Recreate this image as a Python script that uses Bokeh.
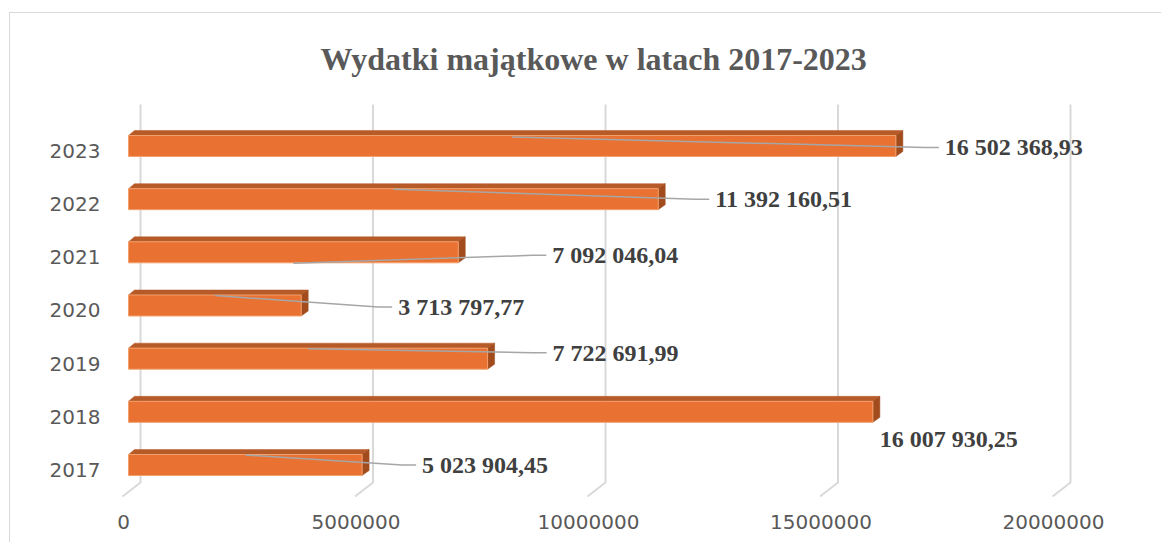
from bokeh.plotting import figure
from bokeh.models import Range1d, LinearAxis, FixedTicker, BasicTickFormatter
from bokeh.core.properties import value
from bokeh.embed import file_html
from bokeh.resources import INLINE

# ---------------- data ----------------
years = ["2017", "2018", "2019", "2020", "2021", "2022", "2023"]
amounts = [5023904.45, 16007930.25, 7722691.99, 3713797.77, 7092046.04, 11392160.51, 16502368.93]
amount_labels = ["5 023 904,45", "16 007 930,25", "7 722 691,99", "3 713 797,77",
                 "7 092 046,04", "11 392 160,51", "16 502 368,93"]
x_ticks = [0, 5000000, 10000000, 15000000, 20000000]
title_text = "Wydatki majątkowe w latach 2017-2023"

# ---------------- layout (page pixels) ----------------
OX, OY = 10, 13            # canvas origin on page
W, H = 1152, 530
FRAME_L, FRAME_R, FRAME_T, FRAME_B = 108, 1142, 100, 500
ZERO_PX = 128.0            # page x of value 0 on bar front faces
SX = 46.5e-6               # px per unit
FIRST_Y = 464.5            # page y of front-face centre of first category
STEP = 53.17               # px between categories
BAR_H_PX = 21
DEPTH_X, DEPTH_Y = 7, 5    # 3-D depth offset of top/side faces
TITLE_LEFT = 320

# label offsets in px from bar end (front face), screen y down
lab_dx = [60, 7, 65, 97, 94, 57, 49]
lab_dy = [0, 27, -6, 1.5, 3, 0, 1.5]
# leader anchor vertical offset from bar centre (px), None = no leader
anchor_dy = [-10, None, -10, -10, 11, -10, -9]


def px_to_x(page_x):
    return (page_x - ZERO_PX) / SX


def dx_px(d):
    return d / SX


def py_to_y(page_y):
    return (FIRST_Y - page_y) / STEP


def dy_px(d):  # screen px (down positive) -> data delta
    return -d / STEP


p = figure(width=W, height=H, output_backend="svg", toolbar_location=None,
           x_range=Range1d(px_to_x(FRAME_L), px_to_x(FRAME_R)),
           y_range=Range1d(py_to_y(FRAME_B), py_to_y(FRAME_T)),
           x_axis_location=None, y_axis_location=None,
           min_border_left=FRAME_L - OX, min_border_right=OX + W - FRAME_R,
           min_border_top=FRAME_T - OY, min_border_bottom=OY + H - FRAME_B)
p.outline_line_color = None
p.grid.visible = False
p.background_fill_color = "white"
p.border_fill_color = "white"
p.styles = {"margin-left": "10px", "margin-top": "13px",
            "box-shadow": "-1px -1px 0 0 #d9d9d9"}

p.title.text = title_text
p.title.align = "left"
p.title.offset = TITLE_LEFT - FRAME_L
p.title.text_font = "Liberation Serif"
p.title.text_font_style = "bold"
p.title.text_font_size = "32px"
p.title.text_color = "#595959"
p.title.standoff = 48

p.extra_x_ranges = {"xt": Range1d(px_to_x(FRAME_L + 5), px_to_x(FRAME_R + 5))}
p.extra_y_ranges = {"yl": Range1d(py_to_y(FRAME_B - 5), py_to_y(FRAME_T - 5))}

xaxis = LinearAxis(x_range_name="xt", ticker=FixedTicker(ticks=x_ticks),
                   formatter=BasicTickFormatter(use_scientific=False))
yaxis = LinearAxis(y_range_name="yl", ticker=FixedTicker(ticks=list(range(len(years)))),
                   major_label_overrides={i: y for i, y in enumerate(years)})
for ax, so in ((xaxis, 14), (yaxis, 8)):
    ax.axis_line_color = None
    ax.major_tick_line_color = None
    ax.minor_tick_line_color = None
    ax.major_tick_in = 0
    ax.major_tick_out = 0
    ax.major_label_standoff = so
    ax.major_label_text_font = "DejaVu Sans"
    ax.major_label_text_font_size = "20px"
    ax.major_label_text_color = "#595959"
p.add_layout(xaxis, "below")
p.add_layout(yaxis, "left")

# ---------------- 3-D gridlines ----------------
g_top, g_bend, g_end = py_to_y(104), py_to_y(482), py_to_y(496)
gxs = [[t + dx_px(12), t + dx_px(12), t - dx_px(6)] for t in x_ticks]
gys = [[g_top, g_bend, g_end] for _ in x_ticks]
p.multi_line(gxs, gys, line_color="#d9d9d9", line_width=2)

# ---------------- bars ----------------
idx = list(range(len(years)))
h = BAR_H_PX / STEP
ddx, ddy = dx_px(DEPTH_X), DEPTH_Y / STEP
top_xs, top_ys, side_xs, side_ys = [], [], [], []
for i, v in zip(idx, amounts):
    yt, yb = i + h / 2, i - h / 2
    top_xs.append([0, dx_px(6), v + ddx, v])
    top_ys.append([yt, yt + ddy, yt + ddy, yt])
    side_xs.append([v, v + ddx, v + ddx, v])
    side_ys.append([yt, yt + ddy, yb + ddy, yb])
p.patches(top_xs, top_ys, fill_color="#B65A28", line_color="#B65A28", line_width=0.5)
p.patches(side_xs, side_ys, fill_color="#A24C1E", line_color="#A24C1E", line_width=0.5)
p.hbar(y=idx, left=0, right=amounts, height=h, fill_color="#E97132",
       line_color="#F2A06C", line_width=1)

# ---------------- leader lines + labels ----------------
lxs, lys = [], []
for i, v, ldx, ldy, ady in zip(idx, amounts, lab_dx, lab_dy, anchor_dy):
    if ady is None:
        continue
    lxs.append([v / 2, v + dx_px(ldx - 20), v + dx_px(ldx - 6)])
    lys.append([i + dy_px(ady), i + dy_px(ldy), i + dy_px(ldy)])
p.multi_line(lxs, lys, line_color="#A6A6A6", line_width=1.5)

p.text(x=amounts, y=idx, text=amount_labels, x_offset=lab_dx, y_offset=lab_dy,
       text_font=value("Liberation Serif"), text_font_style="bold",
       text_font_size="24px", text_color="#404040",
       text_align="left", text_baseline="middle")

open("out.html", "w").write(file_html(p, INLINE))
